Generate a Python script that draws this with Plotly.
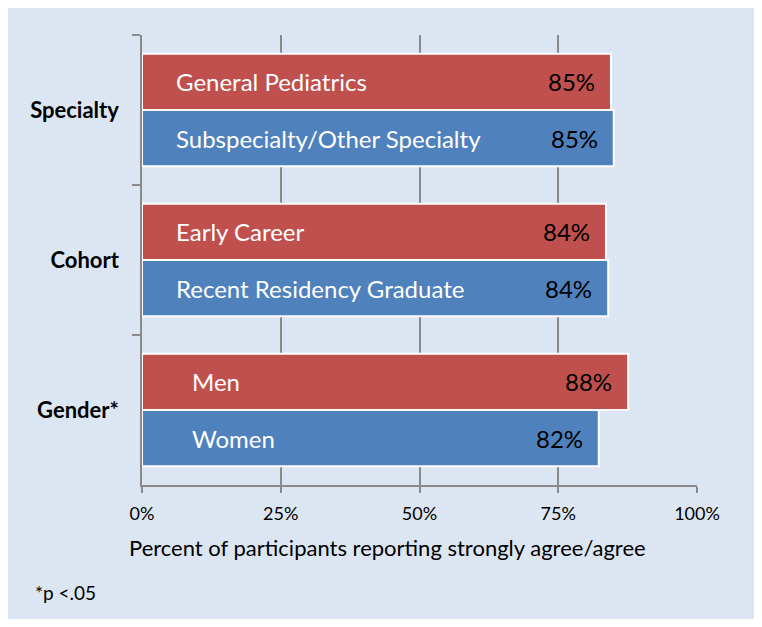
import plotly.graph_objects as go

groups = ["Specialty", "Cohort", "Gender*"]
red_names = ["General Pediatrics", "Early Career", "Men"]
red_values = [84.5, 83.6, 87.6]
red_labels = ["85%", "84%", "88%"]
blue_names = ["Subspecialty/Other Specialty", "Recent Residency Graduate", "Women"]
blue_values = [85.0, 84.0, 82.3]
blue_labels = ["85%", "84%", "82%"]
x_ticks = [0, 25, 50, 75, 100]
x_tick_labels = ["0%", "25%", "50%", "75%", "100%"]
x_title = "Percent of participants reporting strongly agree/agree"
footnote = "*p <.05"

RED = "#C0504D"
BLUE = "#4F81BD"
BG = "#DCE6F2"
GRID = "#8A8A8A"
FONT = "Lato"

# page body has an 8px margin; size the figure so it fills the window exactly
W, H = 746, 611
pl, pr, pt, pb = 134, 57, 27, 134
pw, ph = W - pl - pr, H - pt - pb

fig = go.Figure()
for vals, color in [(red_values, RED), (blue_values, BLUE)]:
    fig.add_trace(go.Bar(
        y=groups, x=vals, orientation="h",
        marker=dict(color=color, line=dict(color="white", width=2)),
        hoverinfo="skip", showlegend=False,
    ))

bargap = 0.25
off = (1 - bargap) / 4
indent = [32, 32, 48]
ann = []
for i, g in enumerate(groups):
    for names, vals, labs, sign in [(red_names, red_values, red_labels, -1),
                                    (blue_names, blue_values, blue_labels, 1)]:
        ann.append(dict(x=0, y=i + sign * off, xref="x", yref="y", text=names[i],
                        xanchor="left", yanchor="middle", xshift=indent[i], showarrow=False,
                        font=dict(family=FONT, size=24, color="white")))
        ann.append(dict(x=vals[i], y=i + sign * off, xref="x", yref="y", text=labs[i],
                        xanchor="right", yanchor="middle", xshift=-14, showarrow=False,
                        font=dict(family=FONT, size=24, color="black")))
ann.append(dict(x=(379 - pl) / pw, y=(H - 539 - pb) / ph, xref="paper", yref="paper",
                text=x_title, showarrow=False, xanchor="center", yanchor="middle",
                font=dict(family=FONT, size=22, color="black")))
ann.append(dict(x=(25 - pl) / pw, y=(H - 584 - pb) / ph, xref="paper", yref="paper",
                text=footnote, showarrow=False, xanchor="left", yanchor="middle",
                font=dict(family=FONT, size=19, color="black")))

fig.update_layout(
    width=W, height=H,
    margin=dict(l=pl, r=pr, t=pt, b=pb),
    paper_bgcolor=BG, plot_bgcolor=BG,
    barmode="group", bargap=bargap, bargroupgap=0,
    annotations=ann,
    font=dict(family=FONT, color="black"),
)
fig.update_xaxes(
    range=[0, 100], tickvals=x_ticks, ticktext=x_tick_labels,
    showgrid=True, gridcolor=GRID, gridwidth=1.5, zeroline=False,
    showline=True, linecolor=GRID, linewidth=1.5,
    ticks="outside", ticklen=6, tickcolor=GRID, tickwidth=1.5,
    tickfont=dict(family=FONT, size=18, color="black"),
    ticklabelstandoff=6, fixedrange=True,
)
fig.update_yaxes(
    type="category", autorange="reversed",
    showline=True, linecolor=GRID, linewidth=1.5,
    ticks="outside", tickson="boundaries", ticklen=8, tickcolor=GRID, tickwidth=1.5,
    tickfont=dict(family=FONT, size=22, color="black", weight="bold"),
    ticklabelstandoff=17, showgrid=False, fixedrange=True,
)

fig.write_html("out.html")
